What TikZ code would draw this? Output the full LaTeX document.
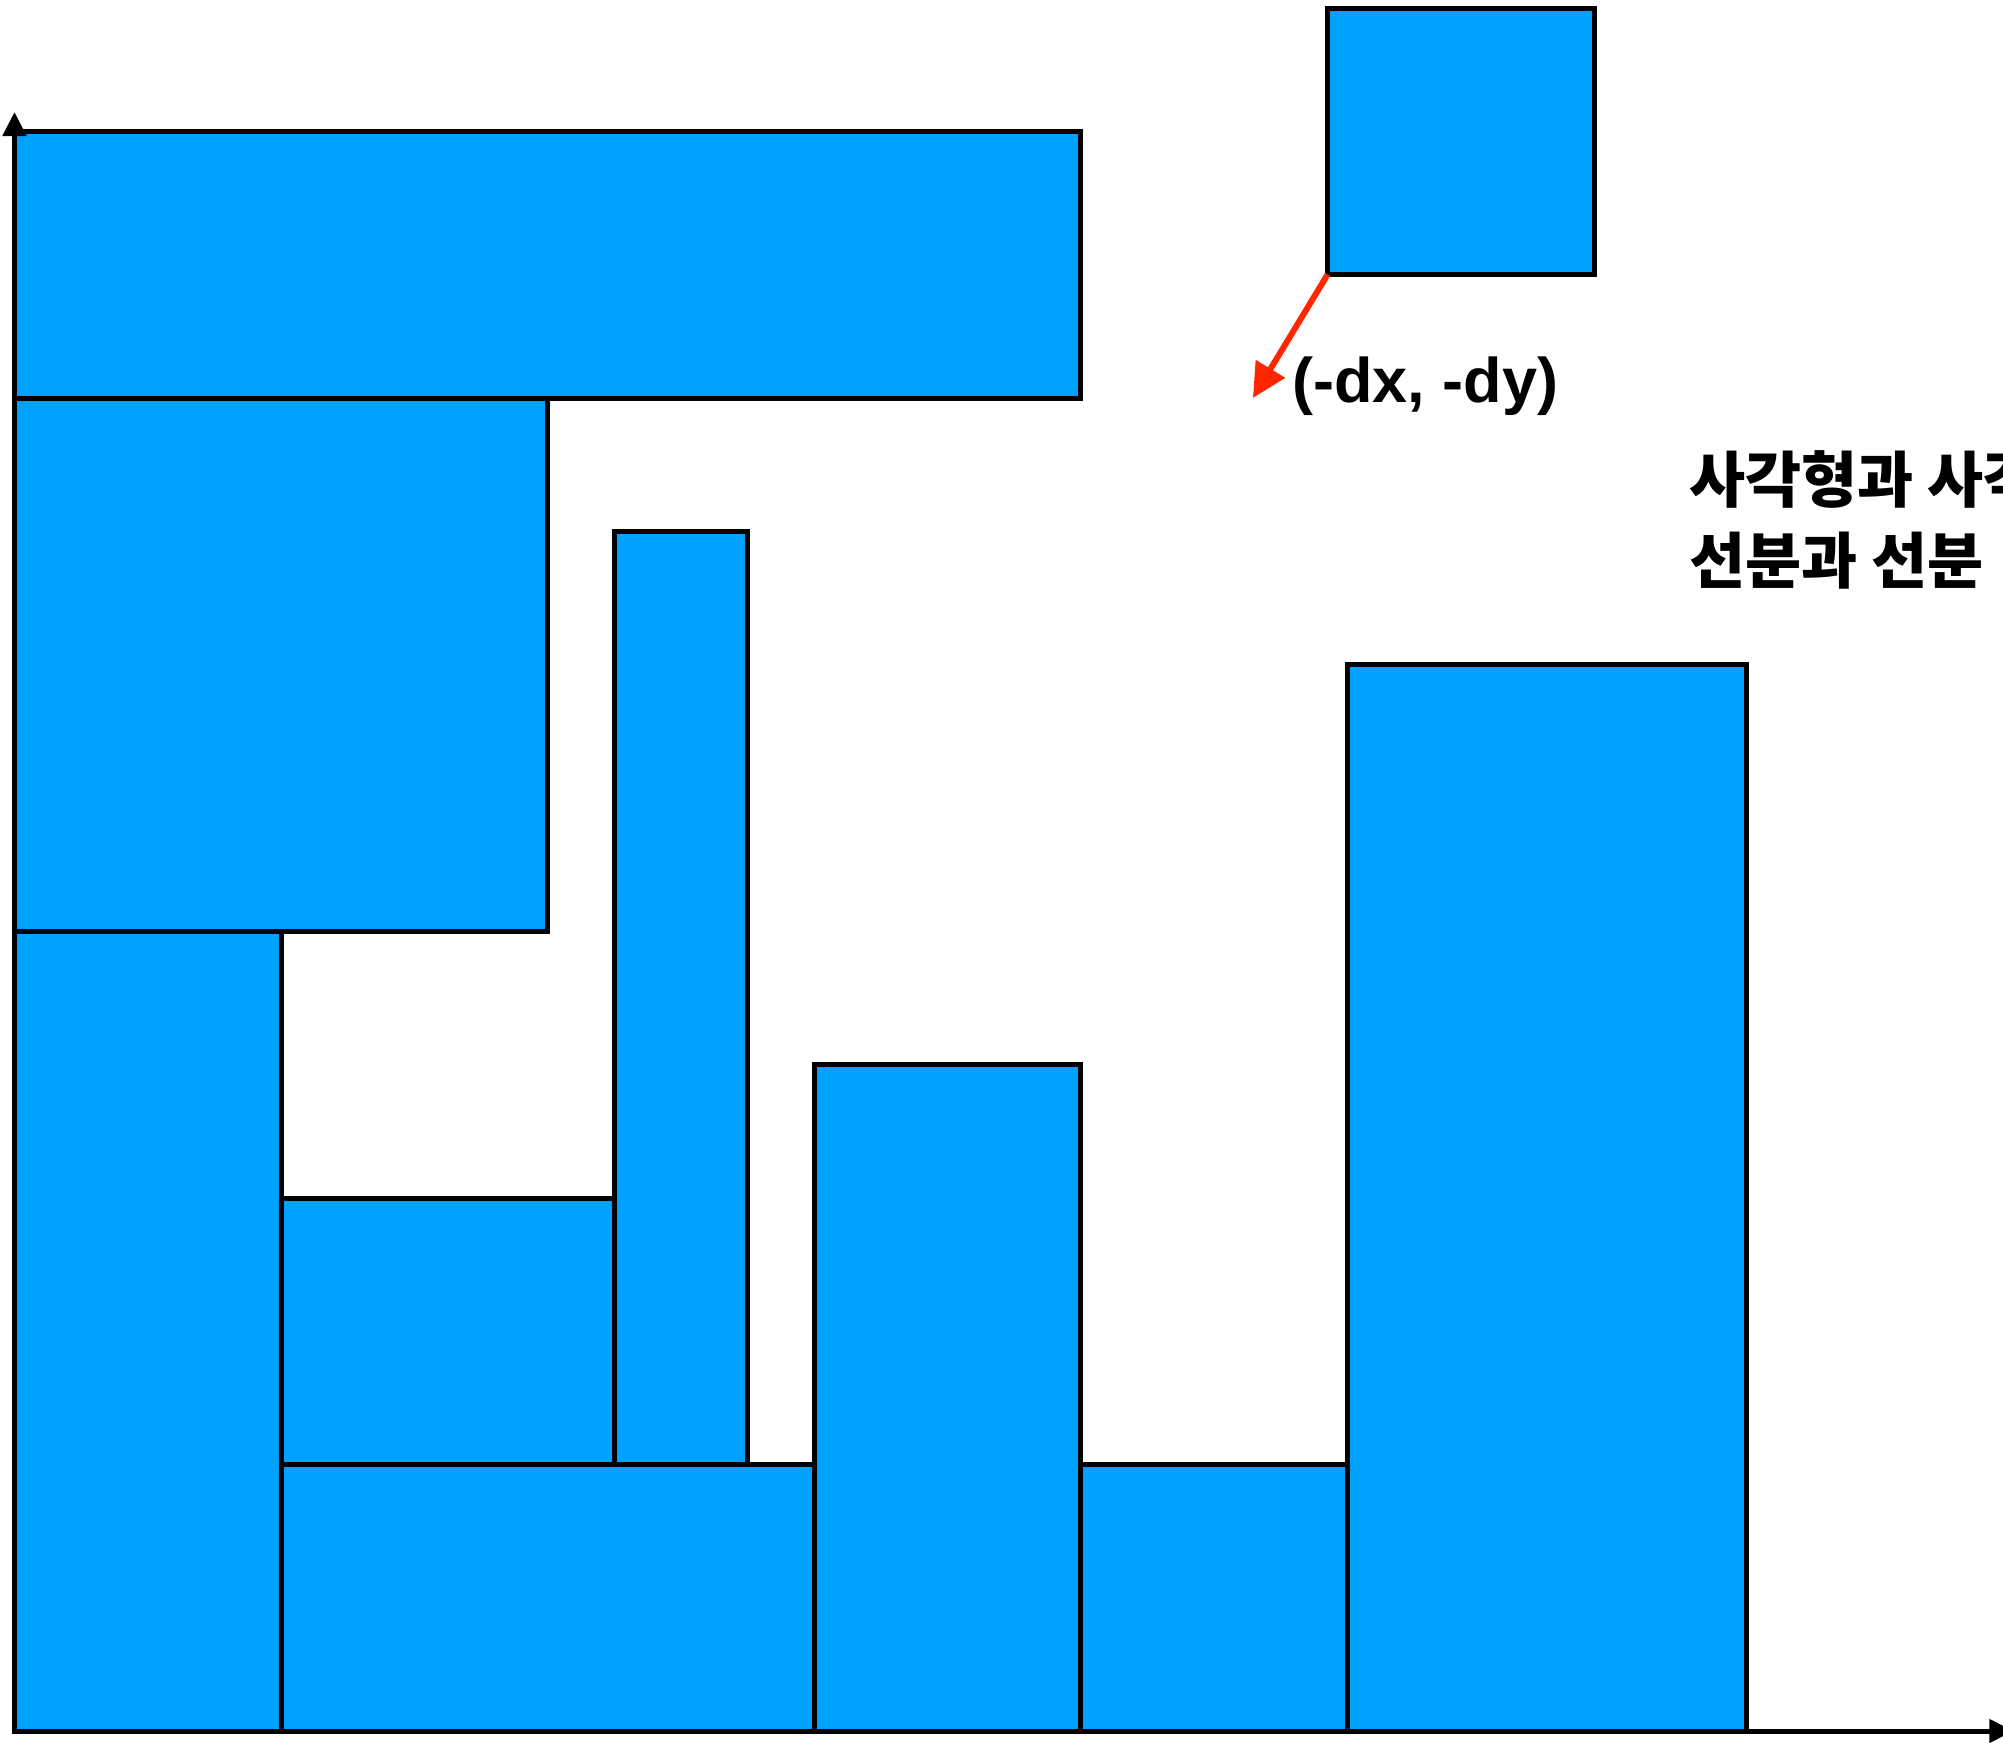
\documentclass[tikz,border=0pt]{standalone}
\usepackage{fontspec}
\newfontfamily\labfont{Liberation Sans}
\newfontfamily\krfont{Noto Sans CJK KR}
\usetikzlibrary{arrows.meta}
\definecolor{blockblue}{RGB}{0,162,255}
\definecolor{arrowred}{RGB}{255,38,0}
\tikzset{
  blockrect/.style={fill=blockblue, draw=black, line width=2.5pt, line join=miter},
  axisline/.style={draw=black, line width=2.5pt, -{Triangle[length=12pt,width=11.5pt]}},
  redarrow/.style={draw=arrowred, line width=3pt, -{Triangle[length=17pt,width=16.5pt]}},
  labeltext/.style={inner sep=0pt, font=\labfont\bfseries\fontsize{31.5}{38}\selectfont},
  krtext/.style={inner sep=0pt, font=\krfont\bfseries\fontsize{30.5}{40}\selectfont},
}
\begin{document}
\begin{tikzpicture}[x=0.5pt,y=-0.5pt]
\useasboundingbox (0,0) rectangle (2003,1743);
\clip (0,0) rectangle (2003,1743);
\begin{scope}[shift={(14.5,1731)}, x=133.25pt, y=133.25pt]
  % stacked blocks
  \path[blockrect] (0,5) rectangle (4,6);
  \path[blockrect] (0,3) rectangle (2,5);
  \path[blockrect] (0,0) rectangle (1,3);
  \path[blockrect] (1,1) rectangle (2.25,2);
  \path[blockrect] (2.25,1) rectangle (2.75,4.5);
  \path[blockrect] (1,0) rectangle (3,1);
  \path[blockrect] (3,0) rectangle (4,2.5);
  \path[blockrect] (4,0) rectangle (5,1);
  \path[blockrect] (5,0) rectangle (6.5,4);
  % axes
  \coordinate (origin) at (0,0);
  \coordinate (xend) at (7.5,0);
  \coordinate (yend) at (0,6.075);
  \draw[axisline] (origin) -- (xend);
  \draw[axisline] (origin) -- (yend);
  % floating square
  \node[blockrect, inner sep=0pt, outer sep=0pt, minimum width=133.25pt, minimum height=133.25pt, anchor=south west] (sq) at (4.927,5.465) {};
  \coordinate (arrowtip) at (4.647,5.002);
  \draw[redarrow] (sq.south west) -- (arrowtip);
  \node[labeltext, anchor=west] (lab) at (4.794,5.047) {(-dx, -dy)};
  % Korean text
  \node[krtext, anchor=base west] (kr1) at (6.283,4.609) {사각형과 사각형};
  \node[krtext, anchor=base west] (kr2) at (6.283,4.305) {선분과 선분};
\end{scope}
\end{tikzpicture}
\end{document}
